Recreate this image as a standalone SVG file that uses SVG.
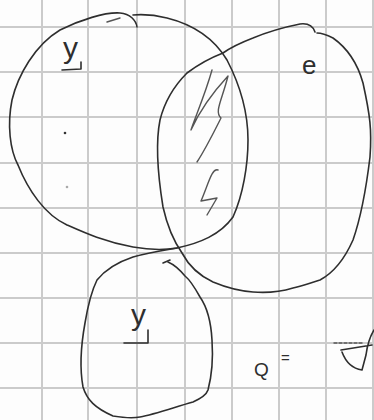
<svg xmlns="http://www.w3.org/2000/svg" width="374" height="420" viewBox="0 0 374 420">
<style>
.grid line{stroke:#cbcbcb;stroke-width:2}
.ink{fill:none;stroke:#2e2e2e;stroke-width:1.6;stroke-linecap:round;stroke-linejoin:round}
.pencil{fill:none;stroke:#555;stroke-width:1.4;stroke-linecap:round;stroke-linejoin:round}
.lbl{font-family:"Liberation Sans",Arial,sans-serif;fill:#2e2e2e}
</style>
<rect width="374" height="420" fill="#fdfdfd"/>
<g class="grid">
<line x1="42" y1="0" x2="42" y2="420"/><line x1="88" y1="0" x2="88" y2="420"/><line x1="137" y1="0" x2="137" y2="420"/><line x1="185" y1="0" x2="185" y2="420"/><line x1="232" y1="0" x2="232" y2="420"/><line x1="279" y1="0" x2="279" y2="420"/><line x1="326" y1="0" x2="326" y2="420"/><line x1="373" y1="0" x2="373" y2="420"/>
<line x1="0" y1="27" x2="374" y2="27"/><line x1="0" y1="72" x2="374" y2="72"/><line x1="0" y1="117" x2="374" y2="117"/><line x1="0" y1="163" x2="374" y2="163"/><line x1="0" y1="208" x2="374" y2="208"/><line x1="0" y1="253" x2="374" y2="253"/><line x1="0" y1="298" x2="374" y2="298"/><line x1="0" y1="343" x2="374" y2="343"/><line x1="0" y1="388" x2="374" y2="388"/>
</g>
<g id="set-y-top">
<path class="ink" d="M137,27 C136,20 130,14 120,13 C105,12 80,20 60,30 C35,45 18,75 12,100 C7,125 10,150 18,165 C28,190 45,215 67,225 C85,233 105,242 133,247 C150,250 165,250 177,248 C200,243 220,235 233,217 C243,195 248,165 248,140 C248,110 240,85 227,60 C215,40 195,25 167,18 C155,15 145,14 133,15"/>
<path class="pencil" d="M107,22 L120,18"/>
<text class="lbl" x="63" y="58" font-size="30">y</text>
<path class="ink" d="M81,62 L81,69 L62,70"/>
<circle cx="65" cy="133" r="1.3" fill="#333"/>
<circle cx="67" cy="187" r="1.3" fill="#aaa"/>
</g>
<g id="set-e">
<path class="ink" d="M315,32 C313,26 308,23 300,24 C285,27 265,33 253,38 C240,43 230,48 223,53 C210,58 195,67 187,73 C175,85 165,100 160,120 C156,140 157,170 163,207 C167,225 173,240 182,253 C190,268 200,276 213,282 C225,287 240,291 253,292 C265,293 280,292 293,288 C305,285 313,282 320,280 C335,272 345,258 353,240 C360,220 366,190 370,157 C372,130 370,115 363,83 C358,65 350,50 333,38 C327,35 320,33 317,33"/>
<text class="lbl" x="302" y="74" font-size="26">e</text>
</g>
<g id="set-y-bottom">
<path class="ink" d="M177,248 C165,250 150,252 133,257 C118,262 105,270 97,280 C92,290 88,305 85,323 C81,345 79,365 83,387 C87,400 95,408 113,416 C125,418 135,418 140,417 C155,414 175,407 193,402 C202,398 207,393 208,390 C212,375 213,355 212,340 C211,322 207,307 200,297 C195,288 190,280 185,276 C180,270 175,265 168,262"/>
<path class="ink" d="M163,263 L170,260"/>
<text class="lbl" x="131" y="325" font-size="30">y</text>
<path class="ink" d="M148,330 L148,343 L124,343"/>
</g>
<g id="connectors">
<path class="pencil" d="M212,70 C205,95 194,120 191,130 C200,110 215,90 228,76 C222,100 214,112 221,118 C214,132 205,150 197,162"/>
<path class="pencil" d="M218,170 C212,168 209,182 201,201 L217,198 L207,215"/>
</g>
<g id="formula">
<text class="lbl" x="254" y="376" font-size="19">Q</text>
<text class="lbl" x="281" y="363" font-size="15">=</text>
<path class="pencil" stroke-dasharray="3,2" d="M334,343 L362,343"/>
<path class="ink" d="M341,350 L372,345 M342,352 Q348,368 362,370 L366,355 Q368,340 374,330"/>
</g>
</svg>
